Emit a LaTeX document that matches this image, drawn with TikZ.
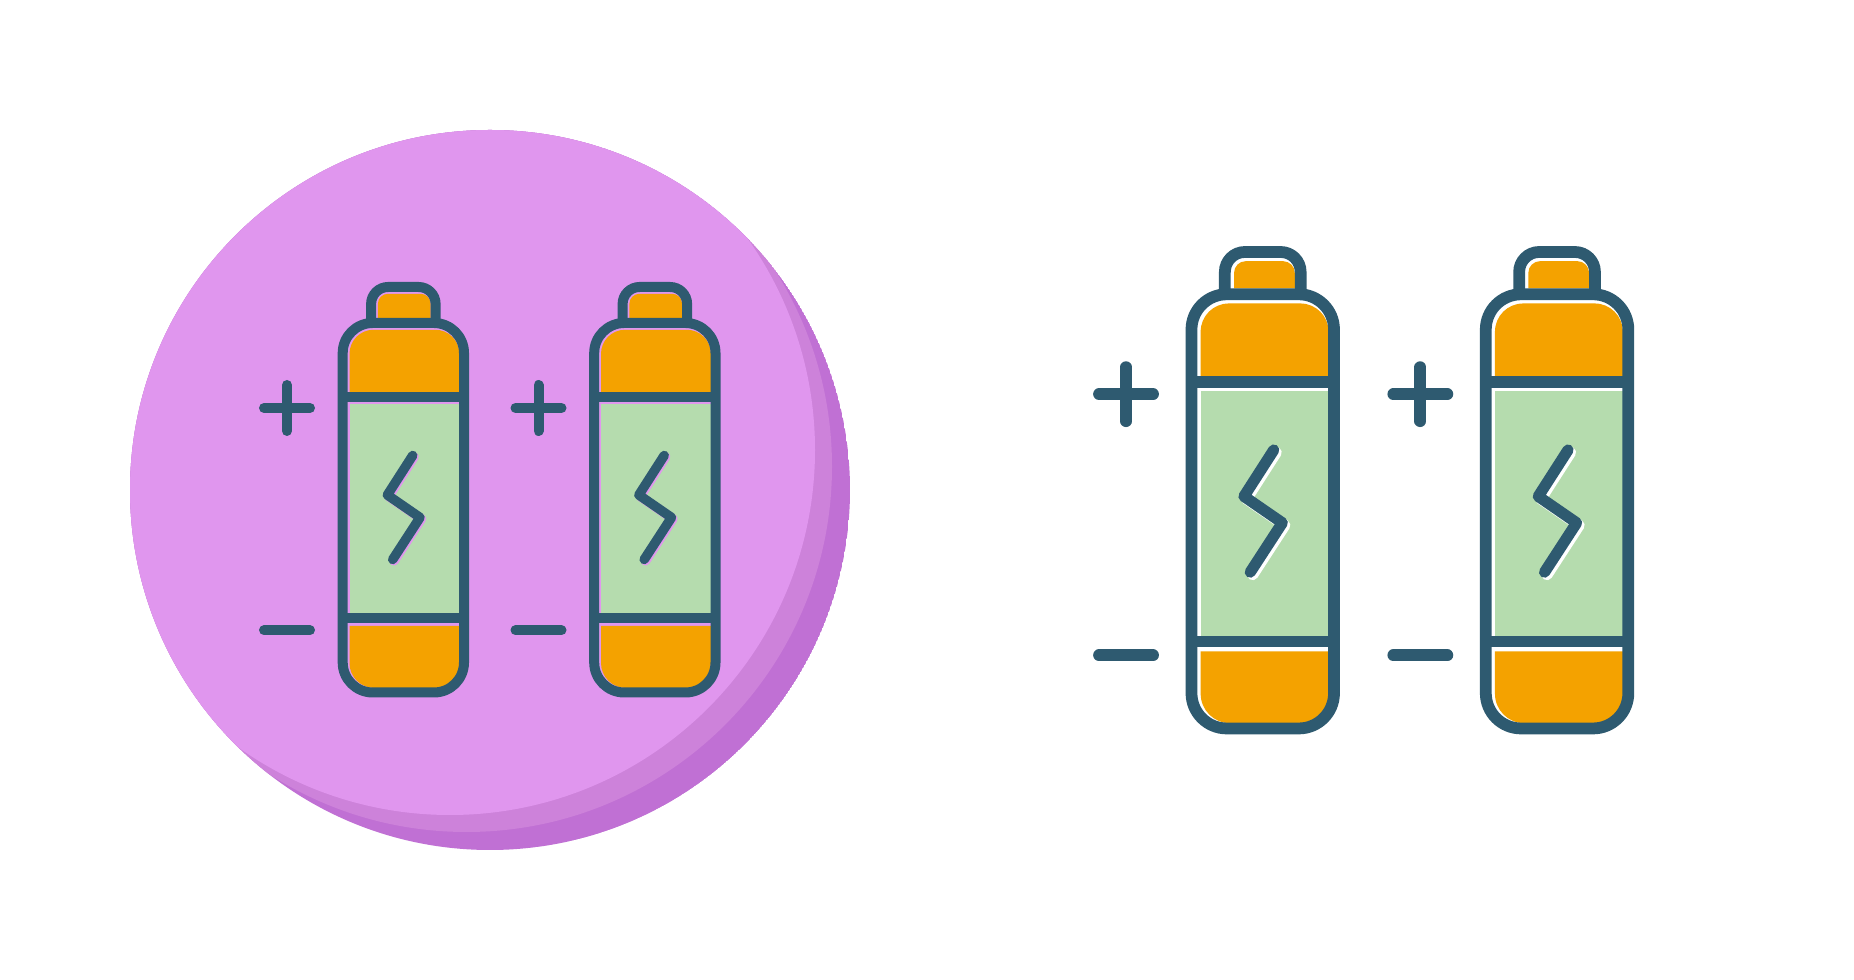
\documentclass[tikz,border=0pt]{standalone}
\usepackage{tikz}

\definecolor{lilac}{RGB}{224,150,238}
\definecolor{lilacmid}{RGB}{205,130,218}
\definecolor{lilacdark}{RGB}{192,112,212}
\definecolor{slateline}{RGB}{46,90,112}
\definecolor{cellorange}{RGB}{244,162,0}
\definecolor{cellgreen}{RGB}{181,220,174}

% #1,#2 top middle of the cap, #3 scale, #4 colour behind the bolt, #5 gap round the fills
\newcommand{\battery}[5]{
  \begin{scope}[shift={(#1,#2)},scale=#3]
    \fill[cellorange] (-27.25+#5,31) [rounded corners=#3*1mm] -- (-27.25+#5,5+#5) -- (27.25,5+#5) [sharp corners] -- (27.25,31) -- cycle;
    \fill[cellorange] (-55.65+#5,106) [rounded corners=#3*2.4mm] -- (-55.65+#5,41+#5) -- (56,41+#5) [sharp corners] -- (56,106) -- cycle;
    \fill[cellgreen] (-55.65+#5,115.5+#5) rectangle (56,328);
    \fill[cellorange] (-55.65+#5,337+#5) [rounded corners=#3*2.5mm] -- (-55.65+#5,401) -- (56,401) [sharp corners] -- (56,337+#5) -- cycle;
    \draw[cellline,line width=#3*1mm,rounded corners=#3*3mm] (-60.65,36) rectangle (60.65,405.5);
    \draw[cellline,line width=#3*1mm,rounded corners=#3*1.7mm] (-32.25,36) -- (-32.25,0) -- (32.25,0) -- (32.25,36);
    \draw[cellline,line width=#3*1mm] (-60.65,110.5) -- (60.65,110.5);
    \draw[cellline,line width=#3*1mm] (-60.65,331.5) -- (60.65,331.5);
    \draw[#4,line width=#3*0.95mm,line cap=round,line join=round,shift={(0.75*#5,0.75*#5)}] (9.35,168.5) -- (-16,208) -- (16.65,230.5) -- (-10.65,272.5);
    \draw[cellline,line width=#3*0.95mm,line cap=round,line join=round] (9.35,168.5) -- (-16,208) -- (16.65,230.5) -- (-10.65,272.5);
    \draw[cellline,line width=#3*1mm,line cap=round] (-139.35,121) -- (-93.35,121);
    \draw[cellline,line width=#3*1mm,line cap=round] (-116.35,98) -- (-116.35,144);
    \draw[cellline,line width=#3*1mm,line cap=round] (-139.35,343.3) -- (-93.35,343.3);
  \end{scope}
}

\begin{document}
\begin{tikzpicture}[x=0.01cm,y=-0.01cm]
    \tikzstyle{cellline}=[draw=slateline]
    \useasboundingbox (0,0) rectangle (1854,980);
    \fill[white] (0,0) rectangle (1854,980);
    % disc with its two crescents
    \begin{scope}
      \clip (490,490) circle [radius=360];
      \fill[lilacdark] (490,490) circle [radius=360];
      \fill[lilacmid] (466.5,466.5) circle [radius=365.5];
      \fill[lilac] (450,450) circle [radius=365];
    \end{scope}
    \battery{403.35}{287}{1}{lilac}{1.8}
    \battery{654.85}{287}{1}{lilac}{1.8}
    \battery{1262.75}{252}{1.175}{white}{2.8}
    \battery{1557.05}{252}{1.175}{white}{2.8}
\end{tikzpicture}
\end{document}
